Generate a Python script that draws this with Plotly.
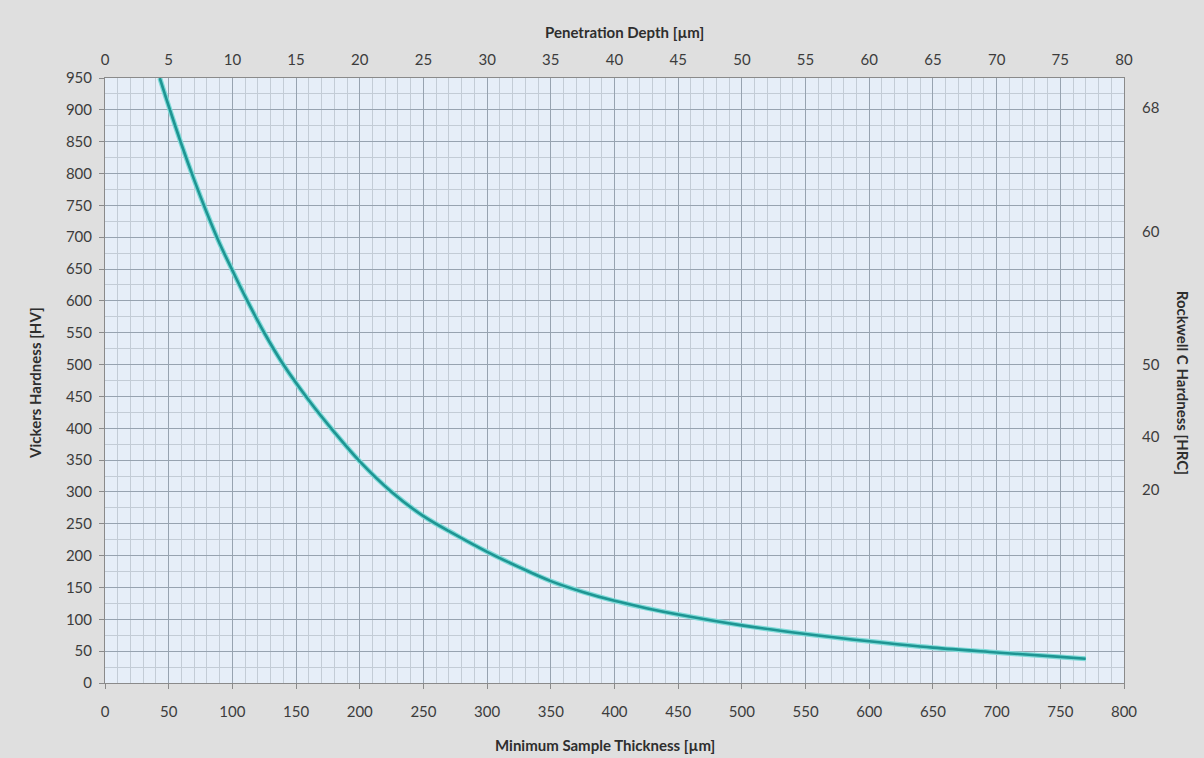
import plotly.graph_objects as go

# ---- data ----
thickness_um = [43, 50, 60, 70, 80, 90, 100, 110, 125, 140, 160, 180, 200, 225, 250,
                275, 300, 325, 350, 375, 400, 425, 450, 500, 550, 600, 650, 700,
                750, 770]
vickers_hv = [950, 906, 846, 790, 738, 690, 648, 607, 550, 500, 444, 394, 348, 300, 262,
              233, 206, 182, 160, 143, 129, 117.5, 107.5, 90.5, 77, 65.5, 55.5, 48,
              41, 38]

hrc_tick_hv = [903, 708, 499, 386, 303]
hrc_tick_text = ["68", "60", "50", "40", "20"]

depth_per_thickness = 0.1  # penetration depth scale = thickness / 10
depth_um = [t * depth_per_thickness for t in thickness_um]

FONT = "Lato"
TXT = "#3c3c3c"

fig = go.Figure()
fig.add_trace(go.Scatter(x=thickness_um, y=vickers_hv, mode="lines",
                         line=dict(color="#7fdad8", width=5, shape="spline"),
                         hoverinfo="skip", showlegend=False))
fig.add_trace(go.Scatter(x=thickness_um, y=vickers_hv, mode="lines",
                         line=dict(color="#1e9593", width=2.6, shape="spline"),
                         showlegend=False))
# same curve on the secondary (depth / HRC) axes, transparent, so those axes are drawn
fig.add_trace(go.Scatter(x=depth_um, y=vickers_hv, xaxis="x2", yaxis="y2", mode="lines",
                         line=dict(color="rgba(0,0,0,0)", width=1),
                         hoverinfo="skip", showlegend=False))

major = "#97a3b0"
minor = "#c3ccd6"

fig.update_layout(
    width=1204, height=758,
    margin=dict(l=105, r=80, t=78, b=75),
    paper_bgcolor="#dfdfdf",
    plot_bgcolor="#e6eef8",
    font=dict(family=FONT, size=15, color=TXT),
    showlegend=False,
    xaxis=dict(range=[0, 800], dtick=50, tick0=0, showgrid=True, gridcolor=major, gridwidth=1,
               minor=dict(dtick=10, showgrid=True, gridcolor=minor, gridwidth=1),
               showline=True, linecolor="#8a8a8a", linewidth=1,
               ticks="outside", ticklen=5, tickcolor="#8a8a8a",
               ticklabelstandoff=10, zeroline=False,
               tickfont=dict(family=FONT, size=15, color=TXT)),
    yaxis=dict(range=[0, 950], dtick=50, tick0=0, showgrid=True, gridcolor=major, gridwidth=1,
               minor=dict(dtick=25, showgrid=True, gridcolor=minor, gridwidth=1),
               showline=True, linecolor="#8a8a8a", linewidth=1,
               ticks="outside", ticklen=5, tickcolor="#8a8a8a",
               ticklabelstandoff=4, zeroline=False,
               tickfont=dict(family=FONT, size=15, color=TXT)),
    xaxis2=dict(range=[0, 80], dtick=5, tick0=0, overlaying="x", side="top", anchor="y",
                showgrid=False, showline=True, linecolor="#8a8a8a", linewidth=1,
                ticks="", ticklabelstandoff=6, zeroline=False,
                tickfont=dict(family=FONT, size=15, color=TXT)),
    yaxis2=dict(range=[0, 950], overlaying="y", side="right", anchor="x",
                tickmode="array", tickvals=hrc_tick_hv, ticktext=hrc_tick_text,
                showgrid=False, showline=True, linecolor="#8a8a8a", linewidth=1,
                ticks="", ticklabelstandoff=14, zeroline=False,
                tickfont=dict(family=FONT, size=15, color=TXT)),
)

title_font = dict(family=FONT, size=15, color="#2e2e2e", weight="bold")
fig.add_annotation(text="Minimum Sample Thickness [µm]", xref="paper", yref="paper",
                   x=0.4907, y=-0.1025, showarrow=False, font=title_font,
                   xanchor="center", yanchor="middle")
fig.add_annotation(text="Penetration Depth [µm]", xref="paper", yref="paper",
                   x=0.510, y=1.076, showarrow=False, font=title_font,
                   xanchor="center", yanchor="middle")
fig.add_annotation(text="Vickers Hardness [HV]", xref="paper", yref="paper",
                   x=-0.0687, y=0.496, showarrow=False, font=title_font, textangle=-90,
                   xanchor="center", yanchor="middle")
fig.add_annotation(text="Rockwell C Hardness [HRC]", xref="paper", yref="paper",
                   x=1.058, y=0.496, showarrow=False, font=title_font, textangle=90,
                   xanchor="center", yanchor="middle")

fig.write_html("out.html",
               config={"displayModeBar": False},
               post_script="document.body.style.margin='0';document.body.style.overflow='hidden';")
